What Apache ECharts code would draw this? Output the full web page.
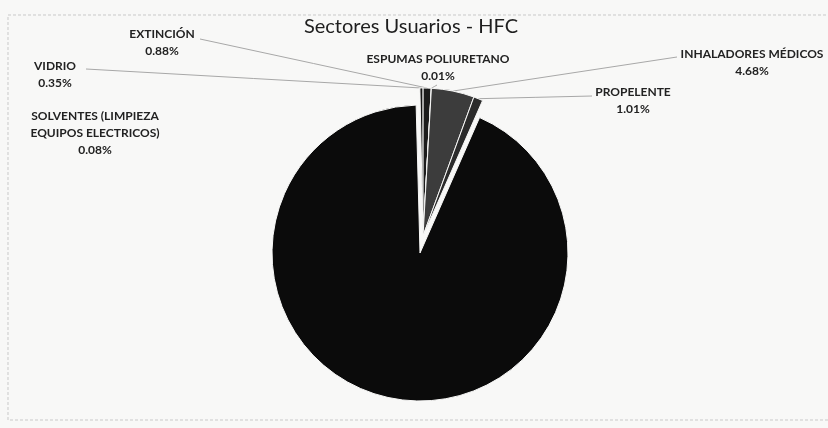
<!DOCTYPE html>
<html>
<head>
<meta charset="utf-8">
<script src="https://cdn.jsdelivr.net/npm/echarts@6/dist/echarts.min.js"></script>
<style>
html,body{margin:0;padding:0;background:#f8f8f7;}
#chart{width:828px;height:428px;}
</style>
</head>
<body>
<div id="chart"></div>
<script>
// Data (clockwise from 12 o'clock)
const categories = [
  'SOLVENTES (LIMPIEZA\nEQUIPOS ELECTRICOS)',
  'VIDRIO',
  'EXTINCIÓN',
  'ESPUMAS POLIURETANO',
  'INHALADORES MÉDICOS',
  'PROPELENTE',
  'REFRIGERACIÓN Y AIRE ACONDICIONADO'
];
const shares = [0.08, 0.35, 0.88, 0.01, 4.68, 1.01, 92.99];
const titleText = 'Sectores Usuarios - HFC';

// Styling / layout (not data)
const sliceColors = ['#d4d4d4', '#151515', '#1c1c1c', '#8a8a8a', '#3c3c3c', '#2b2b2b', '#0b0b0b'];
const exploded = [true, true, true, true, true, true, false];
const labelSpots = [
  {x: 95, y: 108, line: false},
  {x: 55, y: 58, ax: 86, ay: 69},
  {x: 162, y: 26, ax: 200, ay: 39},
  {x: 438, y: 51, ax: 437, ay: 85},
  {x: 752, y: 46, ax: 677, ay: 57},
  {x: 633, y: 84, ax: 592, ay: 96},
  null
];
const BG = '#f8f8f7';

const chart = echarts.init(document.getElementById('chart'), null, {renderer: 'canvas'});

function buildData(forExploded) {
  return categories.map((c, i) => {
    const visible = exploded[i] === forExploded;
    return {
      name: c,
      value: shares[i],
      itemStyle: visible ? {color: sliceColors[i], borderColor: BG, borderWidth: 1}
                         : {color: 'rgba(0,0,0,0)', borderWidth: 0},
      label: {show: visible && labelSpots[i] !== null},
      labelLine: {show: !!(visible && labelSpots[i] && labelSpots[i].line !== false)}
    };
  });
}

const common = {
  type: 'pie',
  radius: 148,
  startAngle: 91.5,
  clockwise: true,
  avoidLabelOverlap: false,
  emphasis: {disabled: true},
  silent: true,
  label: {
    show: true,
    position: 'outer',
    formatter: p => p.name + '\n' + p.percent.toFixed(2) + '%',
    fontFamily: 'Lato',
    fontWeight: 'bold',
    fontSize: 12,
    lineHeight: 17,
    color: '#222',
    align: 'center'
  },
  labelLine: {show: true, lineStyle: {color: '#a8a8a8', width: 1}},
  labelLayout: function (p) {
    const spot = labelSpots[p.dataIndex];
    if (!spot) return {};
    const out = {x: spot.x, y: spot.y, align: 'center', verticalAlign: 'top'};
    if (spot.ax != null && p.labelLinePoints && p.labelLinePoints.length) {
      const e = p.labelLinePoints[0];
      out.labelLinePoints = [[e[0], e[1]], [(e[0] + spot.ax) / 2, (e[1] + spot.ay) / 2], [spot.ax, spot.ay]];
    }
    return out;
  }
};

chart.setOption({
  backgroundColor: BG,
  animation: false,
  title: {
    text: titleText,
    left: 406,
    top: 12,
    textAlign: 'center',
    textStyle: {fontFamily: 'Lato', fontWeight: 'normal', fontSize: 20, color: '#1e1e1e'}
  },
  graphic: [{
    type: 'rect',
    shape: {x: 8, y: 15, width: 840, height: 405},
    style: {fill: 'none', stroke: '#c9c9c9', lineWidth: 1, lineDash: [3, 2]},
    silent: true,
    z: -1
  }],
  series: [
    Object.assign({}, common, {center: [420, 253], data: buildData(false)}),
    Object.assign({}, common, {center: [423, 236], data: buildData(true)})
  ]
});
</script>
</body>
</html>
